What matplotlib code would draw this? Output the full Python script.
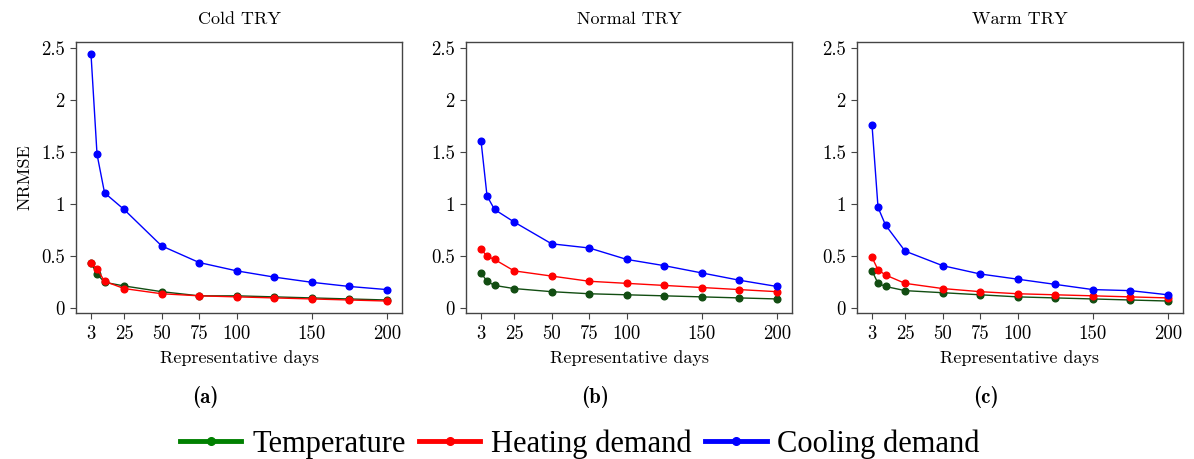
import numpy as np
import matplotlib.pyplot as plt
from matplotlib.lines import Line2D

days = [3, 7, 12, 25, 50, 75, 100, 125, 150, 175, 200]
titles = ["Cold TRY", "Normal TRY", "Warm TRY"]
panel_tags = ["(a)", "(b)", "(c)"]

# NRMSE per TRY
temp_cold = [0.435, 0.33, 0.25, 0.215, 0.16, 0.12, 0.12, 0.11, 0.10, 0.09, 0.08]
heat_cold = [0.44, 0.38, 0.26, 0.19, 0.14, 0.12, 0.11, 0.10, 0.09, 0.08, 0.07]
cool_cold = [2.44, 1.48, 1.11, 0.95, 0.60, 0.44, 0.36, 0.30, 0.25, 0.21, 0.18]

temp_normal = [0.34, 0.26, 0.22, 0.19, 0.16, 0.14, 0.13, 0.12, 0.11, 0.10, 0.09]
heat_normal = [0.57, 0.50, 0.47, 0.36, 0.31, 0.26, 0.24, 0.22, 0.20, 0.18, 0.16]
cool_normal = [1.61, 1.08, 0.95, 0.83, 0.62, 0.58, 0.47, 0.41, 0.34, 0.27, 0.21]

temp_warm = [0.36, 0.24, 0.21, 0.17, 0.15, 0.13, 0.11, 0.10, 0.09, 0.08, 0.07]
heat_warm = [0.49, 0.37, 0.32, 0.24, 0.19, 0.16, 0.14, 0.13, 0.12, 0.11, 0.10]
cool_warm = [1.76, 0.97, 0.80, 0.55, 0.41, 0.33, 0.28, 0.23, 0.18, 0.17, 0.13]

xticks = [3, 25, 50, 75, 100, 150, 200]
yticks = [0, 0.5, 1, 1.5, 2, 2.5]
ytick_labels = ["0", "0.5", "1", "1.5", "2", "2.5"]

series = [(temp_cold, heat_cold, cool_cold),
          (temp_normal, heat_normal, cool_normal),
          (temp_warm, heat_warm, cool_warm)]

plt.rcParams['font.family'] = ['cmr10', 'DejaVu Serif']
plt.rcParams['axes.unicode_minus'] = False

W, H = 1194, 459
fig = plt.figure(figsize=(W / 100, H / 100), dpi=100)
lefts = [76, 466, 857]
ax_w, ax_top, ax_bot = 326, 42, 313

for i, (t, h, c) in enumerate(series):
    ax = fig.add_axes([lefts[i] / W, 1 - ax_bot / H, ax_w / W, (ax_bot - ax_top) / H])
    ax.plot(days, t, color='#124d12', marker='o', markersize=4.8, lw=1)
    ax.plot(days, h, color='red', marker='o', markersize=4.8, lw=1)
    ax.plot(days, c, color='blue', marker='o', markersize=4.8, lw=1)
    ax.set_xlim(-7, 210)
    ax.set_ylim(-0.045, 2.56)
    ax.set_xticks(xticks)
    ax.set_xticklabels([str(v) for v in xticks])
    ax.set_yticks(yticks)
    ax.set_yticklabels(ytick_labels)
    ax.tick_params(labelsize=13.5, length=4, width=0.8, color='#444444', pad=4)
    ax.tick_params(axis='x', pad=5)
    for s in ax.spines.values():
        s.set_color('#444444')
        s.set_linewidth(1)
    ax.set_title(titles[i], fontsize=13, pad=13)
    ax.set_xlabel('Representative days', fontsize=13, labelpad=5)
    if i == 0:
        ax.set_ylabel('NRMSE', fontsize=13, labelpad=6)
    fig.text((lefts[i] + ax_w / 2 - 34) / W, 1 - 397 / H, panel_tags[i],
             fontsize=15, fontweight='bold', family=['cmb10', 'DejaVu Serif'],
             ha='center', va='center')

handles = [Line2D([], [], color='green', lw=3.5, marker='o', markersize=5.5),
           Line2D([], [], color='red', lw=3.5, marker='o', markersize=5.5),
           Line2D([], [], color='blue', lw=3.5, marker='o', markersize=5.5)]
fig.legend(handles, ['Temperature', 'Heating demand', 'Cooling demand'],
           loc='center', bbox_to_anchor=(580 / W, 1 - 444 / H), ncol=3,
           frameon=False, handlelength=2.0, handletextpad=0.35, columnspacing=0.45,
           prop={'family': 'Liberation Serif', 'size': 22})

fig.savefig('out.png', dpi=100)
